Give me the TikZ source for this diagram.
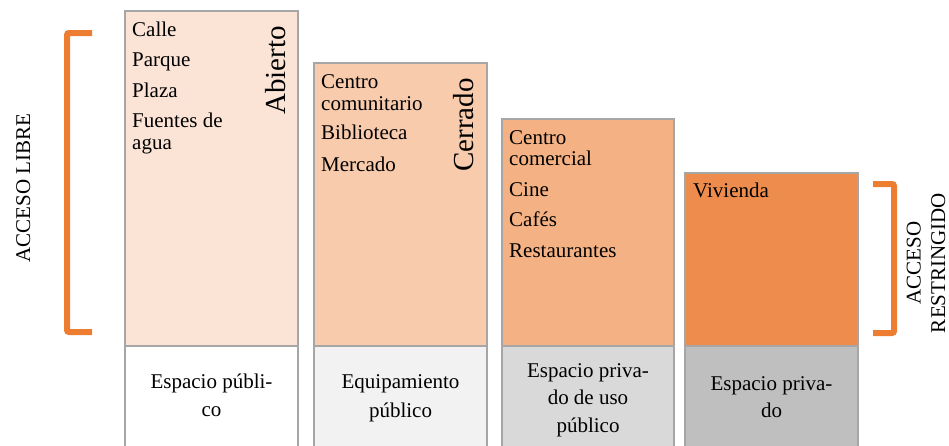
\documentclass[tikz,border=0pt]{standalone}
\usepackage{fontspec}
\setmainfont{Liberation Serif}
\definecolor{peachA}{HTML}{FBE4D6}
\definecolor{peachB}{HTML}{F7CBAC}
\definecolor{peachC}{HTML}{F4B183}
\definecolor{peachD}{HTML}{ED8C4D}
\definecolor{greyA}{HTML}{F2F2F2}
\definecolor{greyB}{HTML}{D9D9D9}
\definecolor{greyC}{HTML}{BFBFBF}
\definecolor{boxgrey}{HTML}{A6A6A6}
\definecolor{bracketorange}{HTML}{ED7D31}

\begin{document}
\begin{tikzpicture}[x=1pt, y=-1pt,
    every node/.style={font=\fontsize{21}{25}\selectfont, inner sep=0pt},
    bigword/.style={rotate=90, anchor=base west, font=\fontsize{29}{35}\selectfont},
    bracket/.style={bracketorange, line width=6pt, rounded corners=2pt}]
  \useasboundingbox (0,0) rectangle (949,445);
  % columns
  \foreach \l/\r/\t/\ca/\cb in {125/298/11/peachA/white, 314/487/63/peachB/greyA,
      502/674/119/peachC/greyB, 685/858/173/peachD/greyC} {
    \filldraw[fill=\ca, draw=boxgrey, line width=1.5pt] (\l,\t) rectangle (\r,346);
    \filldraw[fill=\cb, draw=boxgrey, line width=1.5pt] (\l,346) rectangle (\r,460);
  }
  % items
  \foreach \txt/\y [count=\i] in {Calle/36, Parque/66, Plaza/97, Fuentes de/127, agua/149}
    \node[anchor=base west] (pub\i) at (132,\y) {\txt};
  \foreach \txt/\y [count=\i] in {Centro/88, comunitario/110, Biblioteca/139, Mercado/171}
    \node[anchor=base west] (equip\i) at (321,\y) {\txt};
  \foreach \txt/\y [count=\i] in {Centro/144, comercial/165, Cine/196, Cafés/226, Restaurantes/257}
    \node[anchor=base west] (privuso\i) at (509,\y) {\txt};
  \node[anchor=base west] (priv1) at (693,197) {Vivienda};
  \node[bigword] (abierto) at (285,115) {Abierto};
  \node[bigword] (cerrado) at (473,172) {Cerrado};
  % bottom labels (base = last line)
  \node[align=center, anchor=base, font=\fontsize{21}{28}\selectfont] (espub) at (211.5,416) {Espacio públi-\\co};
  \node[align=center, anchor=base, font=\fontsize{21}{29}\selectfont] (eqpub) at (400.5,417) {Equipamiento\\público};
  \node[align=center, anchor=base, font=\fontsize{21}{27.5}\selectfont] (espriv) at (588,432) {Espacio priva-\\do de uso\\público};
  \node[align=center, anchor=base, font=\fontsize{21}{27}\selectfont] (esprivdo) at (771.5,417) {Espacio priva-\\do};
  % brackets
  \draw[bracket] (92,33) -- (67,33) -- (67,332) -- (92,332);
  \draw[bracket] (873,184) -- (894,184) -- (894,333) -- (873,333);
  \node[rotate=90, anchor=base] (libre) at (30,188) {ACCESO LIBRE};
  \node[rotate=90, anchor=base, align=center, font=\fontsize{21}{24.5}\selectfont] (restr) at (945,263) {ACCESO\\RESTRINGIDO};
\end{tikzpicture}
\end{document}
